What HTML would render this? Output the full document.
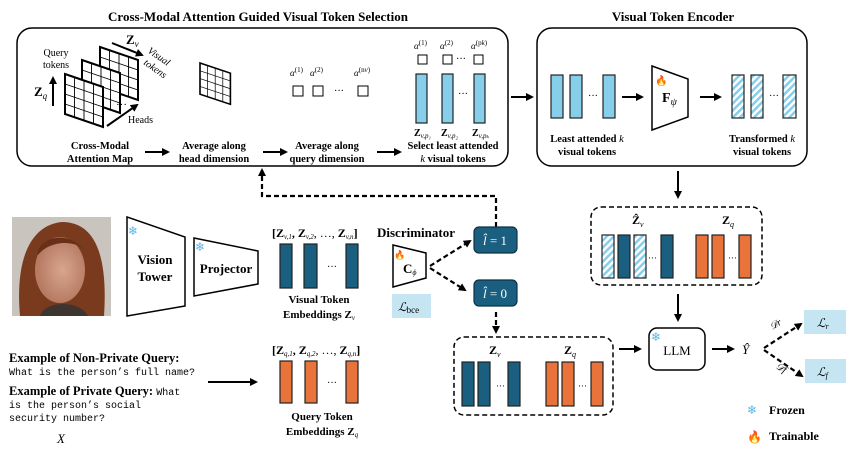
<!DOCTYPE html>
<html><head><meta charset="utf-8"><style>
body{margin:0;background:#fff}
svg{display:block;font-family:"Liberation Serif","DejaVu Serif",serif}
.b{font-weight:bold}
.m{font-family:"Liberation Mono",monospace}
</style></head><body>
<svg width="847" height="452" viewBox="0 0 847 452" xmlns="http://www.w3.org/2000/svg">
<defs>
<marker id="ah" markerWidth="8" markerHeight="8" refX="6" refY="4" orient="auto" markerUnits="userSpaceOnUse"><path d="M0,0 L8,4 L0,8 z" fill="#000"/></marker>
<pattern id="hatch" width="5" height="5" patternUnits="userSpaceOnUse" patternTransform="rotate(45)"><rect width="5" height="5" fill="#fff"/><rect width="2.5" height="5" fill="#87CEEB"/></pattern>
<radialGradient id="face" cx="0.55" cy="0.5" r="0.5"><stop offset="0" stop-color="#d8a58f"/><stop offset="1" stop-color="#b77b63"/></radialGradient>
<g id="snow"><text font-size="12" fill="#5ab4e5" font-family="DejaVu Sans">❄</text></g>
<g id="grid">
<path d="M0,0 L38,13 L38,53 L0,40 Z" fill="#fff" stroke="#000" stroke-width="2"/>
<path d="M0,10 L38,23 M0,20 L38,33 M0,30 L38,43 M9.5,3.25 L9.5,43.25 M19,6.5 L19,46.5 M28.5,9.75 L28.5,49.75" stroke="#000" stroke-width="0.9" fill="none"/>
</g>
</defs>
<g font-size="13" class="b" text-anchor="middle">
<text x="258" y="21" class="b">Cross-Modal Attention Guided Visual Token Selection</text>
<text x="673" y="21" class="b">Visual Token Encoder</text>
</g>
<rect x="17" y="28" width="491" height="138" rx="15" fill="none" stroke="#000" stroke-width="1.5"/>
<rect x="537" y="28" width="270" height="138" rx="15" fill="none" stroke="#000" stroke-width="1.5"/>

<use href="#grid" x="100" y="47"/>
<use href="#grid" x="82" y="60"/>
<use href="#grid" x="65" y="74"/>
<text x="116" y="108" font-size="11">···</text>
<use href="#grid" x="200" y="63" transform="translate(200,63) scale(0.8,0.78) translate(-200,-63)"/>
<line x1="53" y1="106" x2="53" y2="78" stroke="#000" stroke-width="2" marker-end="url(#ah)"/>
<text x="34" y="96" font-size="13" class="b">Z<tspan font-size="9" font-style="italic" font-weight="normal" dy="3">q</tspan></text>
<text x="56" y="56" font-size="10" text-anchor="middle">Query</text>
<text x="56" y="68" font-size="10" text-anchor="middle">tokens</text>
<line x1="112" y1="43" x2="142" y2="55" stroke="#000" stroke-width="2" marker-end="url(#ah)"/>
<text x="126" y="44" font-size="13" class="b">Z<tspan font-size="9" font-style="italic" font-weight="normal" dy="3">v</tspan></text>
<text x="147" y="52" font-size="10" font-style="italic" transform="rotate(35 147 52)">Visual</text>
<text x="143" y="64" font-size="10" font-style="italic" transform="rotate(35 143 64)">tokens</text>
<line x1="107" y1="126" x2="137" y2="105" stroke="#000" stroke-width="2" marker-end="url(#ah)"/>
<text x="128" y="123" font-size="10">Heads</text>

<g font-size="9" font-style="italic">
<text x="290" y="76">α<tspan font-size="7" font-style="normal" dy="-4">(1)</tspan></text>
<text x="310" y="76">α<tspan font-size="7" font-style="normal" dy="-4">(2)</tspan></text>
<text x="354" y="76">α<tspan font-size="7" font-style="normal" dy="-4">(n<tspan font-style="italic">v</tspan>)</tspan></text>
<text x="414" y="49">α<tspan font-size="7" font-style="normal" dy="-4">(1)</tspan></text>
<text x="440" y="49">α<tspan font-size="7" font-style="normal" dy="-4">(2)</tspan></text>
<text x="471" y="49">α<tspan font-size="7" font-style="normal" dy="-4">(p<tspan font-style="italic">k</tspan>)</tspan></text>
</g>
<g fill="#fff" stroke="#000" stroke-width="1">
<rect x="293" y="86" width="10" height="10"/><rect x="313" y="86" width="10" height="10"/><rect x="358" y="86" width="10" height="10"/>
<rect x="418" y="55" width="9" height="9"/><rect x="443" y="55" width="9" height="9"/><rect x="474" y="55" width="9" height="9"/>
</g>
<text x="334" y="94" font-size="10">···</text>
<text x="456" y="62" font-size="10">···</text>
<g fill="#87CEEB" stroke="#222" stroke-width="1.2">
<rect x="416" y="74" width="11" height="49"/><rect x="442" y="74" width="11" height="49"/><rect x="474" y="74" width="11" height="49"/>
<rect x="551" y="75" width="12" height="43"/><rect x="570" y="75" width="12" height="43"/><rect x="603" y="75" width="12" height="43"/>
</g>
<text x="458" y="97" font-size="10">···</text>
<text x="588" y="99" font-size="10">···</text>
<g font-size="10" class="b">
<text x="414" y="136">Z<tspan font-size="7" font-style="italic" font-weight="normal" dy="2">v,p₁</tspan></text>
<text x="441" y="136">Z<tspan font-size="7" font-style="italic" font-weight="normal" dy="2">v,p₂</tspan></text>
<text x="472" y="136">Z<tspan font-size="7" font-style="italic" font-weight="normal" dy="2">v,pₖ</tspan></text>
</g>
<g font-size="10.5" class="b" text-anchor="middle">
<text x="100" y="149">Cross-Modal</text><text x="100" y="162">Attention Map</text>
<text x="214" y="149">Average along</text><text x="214" y="162">head dimension</text>
<text x="327" y="149">Average along</text><text x="327" y="162">query dimension</text>
<text x="453" y="149">Select least attended</text><text x="453" y="162"><tspan font-style="italic" font-weight="normal">k</tspan> visual tokens</text>
<text x="587" y="142">Least attended <tspan font-style="italic" font-weight="normal">k</tspan></text><text x="587" y="155">visual tokens</text>
<text x="762" y="142">Transformed <tspan font-style="italic" font-weight="normal">k</tspan></text><text x="762" y="155">visual tokens</text>
</g>
<g stroke="#000" stroke-width="2" marker-end="url(#ah)">
<line x1="145" y1="152" x2="168" y2="152"/><line x1="263" y1="152" x2="286" y2="152"/><line x1="377" y1="152" x2="400" y2="152"/>
<line x1="511" y1="97" x2="532" y2="97"/><line x1="622" y1="97" x2="642" y2="97"/><line x1="700" y1="97" x2="720" y2="97"/>
<line x1="678" y1="171" x2="678" y2="197"/><line x1="678" y1="294" x2="678" y2="320"/>
<line x1="712" y1="349" x2="733" y2="349"/><line x1="619" y1="349" x2="640" y2="349"/>
<line x1="208" y1="382" x2="256" y2="382"/>
</g>
<path d="M652,66 L688,79 L688,117 L652,130 Z" fill="#fff" stroke="#000" stroke-width="1.5"/>
<text x="662" y="102" font-size="14" class="b">F<tspan font-size="10" font-style="italic" font-weight="normal" dy="3">ψ</tspan></text>
<text x="655" y="84" font-size="10" fill="#f5a623" font-family="DejaVu Sans">🔥</text>
<g fill="url(#hatch)" stroke="#222" stroke-width="1.2">
<rect x="732" y="75" width="12" height="43"/><rect x="751" y="75" width="12" height="43"/><rect x="783" y="75" width="13" height="43"/>
</g>
<text x="769" y="99" font-size="10">···</text>

<rect x="591" y="207" width="171" height="78" rx="10" fill="none" stroke="#000" stroke-width="1.5" stroke-dasharray="5,3"/>
<text x="632" y="224" font-size="12" class="b">Ẑ<tspan font-size="8" font-style="italic" font-weight="normal" dy="3">v</tspan></text>
<text x="722" y="224" font-size="12" class="b">Z<tspan font-size="8" font-style="italic" font-weight="normal" dy="3">q</tspan></text>
<g stroke="#222" stroke-width="1.2">
<rect x="602" y="235" width="12" height="43" fill="url(#hatch)"/><rect x="618" y="235" width="12" height="43" fill="#1a5f80"/>
<rect x="634" y="235" width="12" height="43" fill="url(#hatch)"/><rect x="661" y="235" width="12" height="43" fill="#1a5f80"/>
<rect x="696" y="235" width="12" height="43" fill="#e8743b"/><rect x="712" y="235" width="12" height="43" fill="#e8743b"/><rect x="739" y="235" width="12" height="43" fill="#e8743b"/>
</g>
<text x="648" y="261" font-size="9">···</text><text x="728" y="261" font-size="9">···</text>

<rect x="649" y="328" width="56" height="42" rx="8" fill="#fff" stroke="#000" stroke-width="1.5"/>
<text x="677" y="355" font-size="13" text-anchor="middle">LLM</text>
<use href="#snow" x="651" y="341"/>
<text x="742" y="354" font-size="13" font-style="italic">Ŷ</text>
<g stroke="#000" stroke-width="2.2" stroke-dasharray="5,3" marker-end="url(#ah)" fill="none">
<line x1="764" y1="348" x2="801" y2="324"/><line x1="764" y1="350" x2="802" y2="376"/>
</g>
<text x="772" y="330" font-size="10" font-style="italic" transform="rotate(-30 772 330)">𝒟r</text>
<text x="775" y="368" font-size="10" font-style="italic" transform="rotate(30 775 368)">𝒟f</text>
<rect x="804" y="310" width="42" height="24" fill="#c5e5f3"/>
<rect x="805" y="359" width="41" height="24" fill="#c5e5f3"/>
<text x="817" y="327" font-size="12" font-style="italic">ℒ<tspan font-size="8" dy="2">r</tspan></text>
<text x="817" y="376" font-size="12" font-style="italic">ℒ<tspan font-size="8" dy="2">f</tspan></text>
<use href="#snow" x="747" y="414"/>
<text x="769" y="414" font-size="12" class="b">Frozen</text>
<text x="747" y="441" font-size="12" fill="#f5a623" font-family="DejaVu Sans">🔥</text>
<text x="769" y="440" font-size="12" class="b">Trainable</text>

<rect x="12" y="217" width="99" height="99" fill="#c9c4bd"/>
<path d="M20,316 C15,260 30,225 62,222 C95,222 108,255 104,316 Z" fill="#7a3a1e"/>
<ellipse cx="60" cy="270" rx="25" ry="33" fill="url(#face)"/>
<path d="M38,250 C45,235 70,232 84,250 C75,240 50,240 38,255 Z" fill="#6a2f18"/>
<path d="M40,316 C45,300 80,300 88,316 Z" fill="#3e3530"/>

<path d="M127,217 L185,237 L185,306 L127,316 Z" fill="#fff" stroke="#000" stroke-width="1.5"/>
<text x="155" y="264" font-size="13" class="b" text-anchor="middle">Vision</text>
<text x="155" y="281" font-size="13" class="b" text-anchor="middle">Tower</text>
<use href="#snow" x="128" y="235"/>
<path d="M194,238 L258,251 L258,284 L194,296 Z" fill="#fff" stroke="#000" stroke-width="1.5"/>
<text x="226" y="273" font-size="13" class="b" text-anchor="middle">Projector</text>
<use href="#snow" x="195" y="251"/>

<text x="272" y="237" font-size="12" class="b">[Z<tspan font-size="7" font-style="italic" font-weight="normal" dy="2">v,1</tspan><tspan dy="-2">, Z</tspan><tspan font-size="7" font-style="italic" font-weight="normal" dy="2">v,2</tspan><tspan dy="-2" font-weight="normal">, …, </tspan><tspan>Z</tspan><tspan font-size="7" font-style="italic" font-weight="normal" dy="2">v,n</tspan><tspan dy="-2">]</tspan></text>
<text x="377" y="237" font-size="13" class="b">Discriminator</text>
<g fill="#1a5f80" stroke="#222" stroke-width="1.2">
<rect x="280" y="244" width="12" height="44"/><rect x="304" y="244" width="13" height="44"/><rect x="346" y="244" width="12" height="44"/>
</g>
<text x="327" y="270" font-size="10">···</text>
<text x="319" y="303" font-size="11" class="b" text-anchor="middle">Visual Token</text>
<text x="319" y="318" font-size="11" class="b" text-anchor="middle">Embeddings Z<tspan font-size="7" font-style="italic" font-weight="normal" dy="2">v</tspan></text>

<path d="M393,245 L426,253 L426,278 L393,287 Z" fill="#fff" stroke="#000" stroke-width="1.5"/>
<text x="403" y="273" font-size="13" class="b">C<tspan font-size="8" font-style="italic" font-weight="normal" dy="2">ϕ</tspan></text>
<text x="394" y="258" font-size="9" fill="#f5a623" font-family="DejaVu Sans">🔥</text>
<rect x="392" y="294" width="39" height="24" fill="#c5e5f3"/>
<text x="398" y="311" font-size="12" font-style="italic">ℒ<tspan font-size="9" font-style="normal" dy="2">bce</tspan></text>
<g stroke="#000" stroke-width="2.2" stroke-dasharray="5,3" marker-end="url(#ah)" fill="none">
<line x1="430" y1="266" x2="470" y2="241"/><line x1="430" y1="268" x2="465" y2="290"/>
<line x1="496" y1="312" x2="496" y2="332"/>
<path d="M496,227 L496,196 L262,196 L262,170"/>
</g>
<rect x="474" y="227" width="43" height="26" rx="5" fill="#1a5f80" stroke="#0d3347" stroke-width="1.2"/>
<rect x="474" y="280" width="43" height="26" rx="5" fill="#1a5f80" stroke="#0d3347" stroke-width="1.2"/>
<text x="495" y="245" font-size="13" fill="#fff" text-anchor="middle" font-style="italic">l̂ <tspan font-style="normal">= 1</tspan></text>
<text x="495" y="298" font-size="13" fill="#fff" text-anchor="middle" font-style="italic">l̂ <tspan font-style="normal">= 0</tspan></text>

<rect x="454" y="337" width="159" height="78" rx="10" fill="none" stroke="#000" stroke-width="1.5" stroke-dasharray="5,3"/>
<text x="489" y="354" font-size="12" class="b">Z<tspan font-size="8" font-style="italic" font-weight="normal" dy="3">v</tspan></text>
<text x="564" y="354" font-size="12" class="b">Z<tspan font-size="8" font-style="italic" font-weight="normal" dy="3">q</tspan></text>
<g stroke="#222" stroke-width="1.2">
<rect x="462" y="362" width="12" height="44" fill="#1a5f80"/><rect x="478" y="362" width="12" height="44" fill="#1a5f80"/><rect x="508" y="362" width="12" height="44" fill="#1a5f80"/>
<rect x="546" y="362" width="12" height="44" fill="#e8743b"/><rect x="562" y="362" width="12" height="44" fill="#e8743b"/><rect x="591" y="362" width="12" height="44" fill="#e8743b"/>
</g>
<text x="496" y="389" font-size="9">···</text><text x="578" y="389" font-size="9">···</text>

<text x="9" y="362" font-size="12.5" class="b">Example of Non-Private Query:</text>
<text x="9" y="375" font-size="10" class="m">What is the person’s full name?</text>
<text x="9" y="395" font-size="12.5" class="b">Example of Private Query: <tspan class="m" font-size="10" font-weight="normal">What</tspan></text>
<text x="9" y="408" font-size="10" class="m">is the person’s social</text>
<text x="9" y="421" font-size="10" class="m">security number?</text>
<text x="57" y="443" font-size="13" font-style="italic">X</text>
<text x="272" y="354" font-size="12" class="b">[Z<tspan font-size="7" font-style="italic" font-weight="normal" dy="2">q,1</tspan><tspan dy="-2">, Z</tspan><tspan font-size="7" font-style="italic" font-weight="normal" dy="2">q,2</tspan><tspan dy="-2" font-weight="normal">, …, </tspan><tspan>Z</tspan><tspan font-size="7" font-style="italic" font-weight="normal" dy="2">q,n</tspan><tspan dy="-2">]</tspan></text>
<g fill="#e8743b" stroke="#222" stroke-width="1.2">
<rect x="280" y="361" width="12" height="42"/><rect x="305" y="361" width="12" height="42"/><rect x="346" y="361" width="12" height="42"/>
</g>
<text x="327" y="386" font-size="10">···</text>
<text x="322" y="420" font-size="11" class="b" text-anchor="middle">Query Token</text>
<text x="322" y="435" font-size="11" class="b" text-anchor="middle">Embeddings Z<tspan font-size="7" font-style="italic" font-weight="normal" dy="2">q</tspan></text>
</svg>
</body></html>
